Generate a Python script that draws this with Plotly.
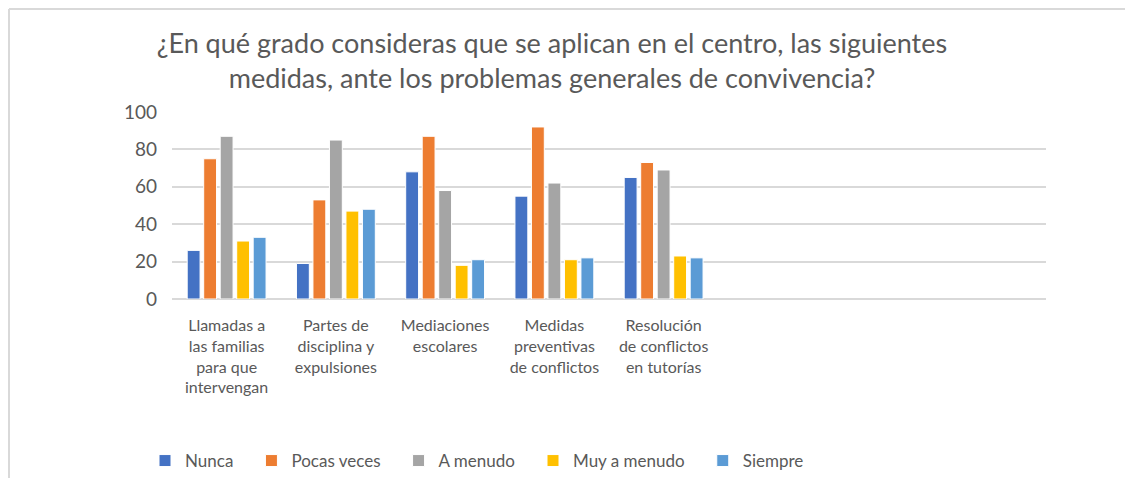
import plotly.graph_objects as go

# data
categories = [
    "Llamadas a<br>las familias<br>para que<br>intervengan",
    "Partes de<br>disciplina y<br>expulsiones",
    "Mediaciones<br>escolares",
    "Medidas<br>preventivas<br>de conflictos",
    "Resolución<br>de conflictos<br>en tutorías",
]
# empty slots Excel keeps on the right of the axis
empty_slots = [" ", "  ", "   "]

nunca = [26, 19, 68, 55, 65]
pocas_veces = [75, 53, 87, 92, 73]
a_menudo = [87, 85, 58, 62, 69]
muy_a_menudo = [31, 47, 18, 21, 23]
siempre = [33, 48, 21, 22, 22]

y_ticks = [0, 20, 40, 60, 80, 100]

TITLE = ("¿En qué grado consideras que se aplican en el centro, las siguientes<br>"
         "medidas, ante los problemas generales de convivencia?")

series = [
    ("Nunca", nunca, "#4472C4"),
    ("Pocas veces", pocas_veces, "#ED7D31"),
    ("A menudo", a_menudo, "#A5A5A5"),
    ("Muy a menudo", muy_a_menudo, "#FFC000"),
    ("Siempre", siempre, "#5B9BD5"),
]

FONT = "Lato"
TEXT_GREY = "#595959"
GRID = "#D9D9D9"
PAD = "\u00a0\u00a0\u00a0"  # extra room between legend entries, like Excel

fig = go.Figure()
for name, vals, color in series:
    fig.add_trace(go.Bar(
        x=categories, y=vals, name=name + PAD,
        marker=dict(color=color, line=dict(color="white", width=1)),
    ))

# the page body has an 8px margin, so the figure is 8px smaller than the window
OFF = 8
W, H = 1133 - OFF, 478 - OFF
# plot area in window pixels (from the reference)
L, R, T, B = 172 - OFF, 1133 - 1046, 112 - OFF, 478 - 299
plot_w = W - L - R
plot_h = H - T - B

fig.update_layout(
    width=W, height=H,
    margin=dict(l=L, r=R, t=T, b=B, autoexpand=False),
    barmode="group", bargap=0.245, bargroupgap=0.22,
    plot_bgcolor="white", paper_bgcolor="white",
    font=dict(family=FONT, color=TEXT_GREY),
    title=dict(
        text=TITLE, x=(552 - OFF) / W, xanchor="center",
        y=1 - 45 / H, yanchor="top", yref="container",
        font=dict(family=FONT, size=27, color=TEXT_GREY),
    ),
    legend=dict(
        orientation="h", xref="container", yref="container",
        x=(145 - OFF) / W, xanchor="left",
        y=1 - (461 - OFF) / H, yanchor="middle",
        font=dict(family=FONT, size=17, color=TEXT_GREY),
        itemwidth=30, traceorder="normal",
    ),
    showlegend=True,
)

fig.update_xaxes(
    type="category", categoryorder="array",
    categoryarray=categories + empty_slots,
    range=[-0.5, len(categories) + len(empty_slots) - 0.5],
    showgrid=False, showline=False, zeroline=False,
    ticks="", tickangle=0, automargin=False, ticklabelstandoff=15,
    tickfont=dict(family=FONT, size=16, color=TEXT_GREY),
)
fig.update_yaxes(
    range=[0, 100], tickvals=y_ticks,
    showgrid=True, gridcolor=GRID, gridwidth=1.5,
    zeroline=True, zerolinecolor=GRID, zerolinewidth=1.5,
    showline=False, ticks="", ticklabelstandoff=14, automargin=False,
    tickfont=dict(family=FONT, size=19, color=TEXT_GREY),
)

# chart-area frame (top and left edges visible in the crop)
frame_x = (8 - OFF - L) / plot_w + 1 / plot_w
frame_y = 1 + (T - 1) / plot_h
fig.add_shape(type="line", xref="paper", yref="paper",
              x0=frame_x, x1=(W + 10 - L) / plot_w, y0=frame_y, y1=frame_y,
              line=dict(color="#D9D9D9", width=2))
fig.add_shape(type="line", xref="paper", yref="paper",
              x0=frame_x, x1=frame_x, y0=frame_y, y1=-(B + 10) / plot_h,
              line=dict(color="#D9D9D9", width=2))

fig.write_html("out.html")
